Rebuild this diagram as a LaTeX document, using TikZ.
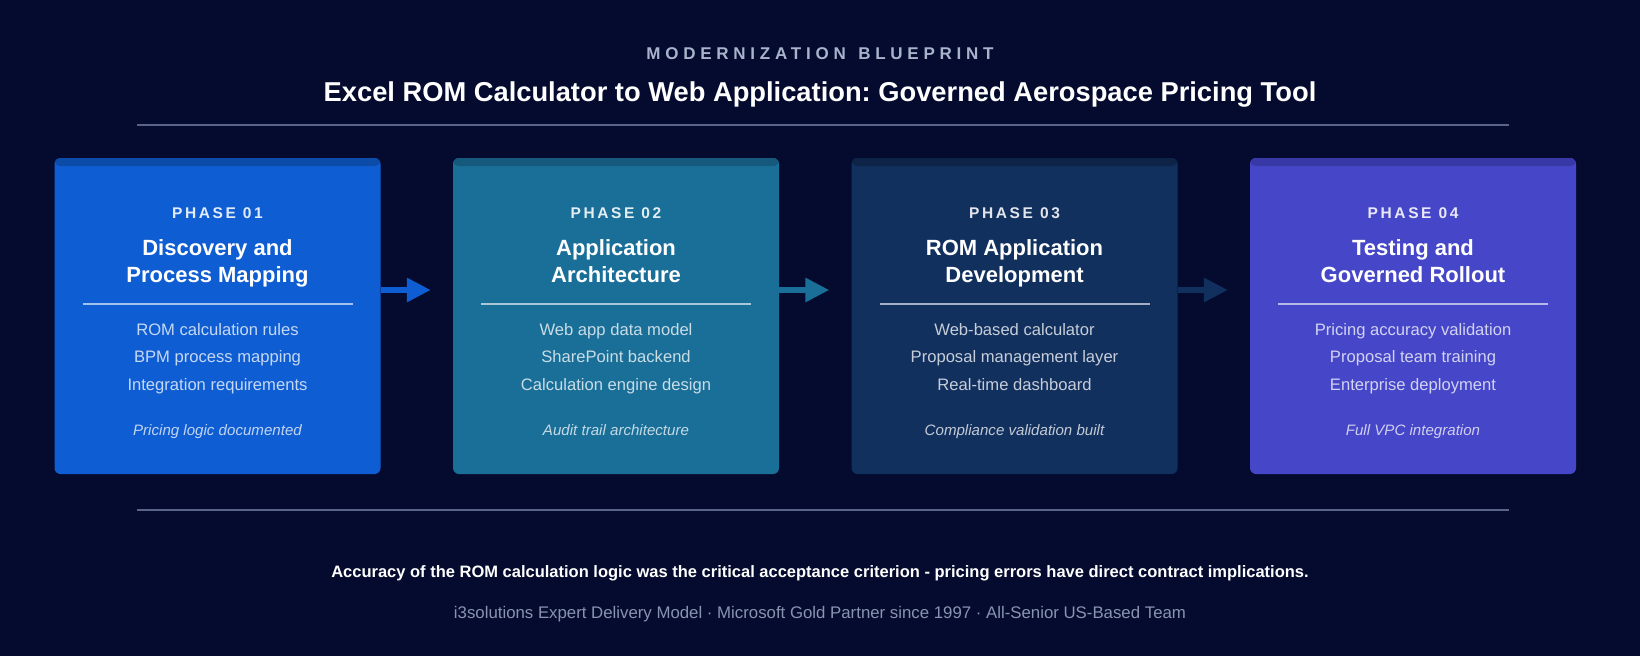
\documentclass[tikz,border=0pt]{standalone}
\usepackage{fontspec}
\setmainfont{Liberation Sans}
\newfontfamily\spacedfont[LetterSpace=28]{Liberation Sans}
\newfontfamily\labelfont[LetterSpace=17]{Liberation Sans}
\usetikzlibrary{arrows.meta,positioning}
\frenchspacing

\definecolor{bg}{HTML}{040B2E}
\definecolor{rulecol}{HTML}{5A6488}
\definecolor{kickcol}{HTML}{A9B4CC}
\definecolor{creditcol}{HTML}{8A93B0}
\definecolor{fillA}{HTML}{0F5DD2}
\definecolor{fillB}{HTML}{1A6F98}
\definecolor{fillC}{HTML}{12305E}
\definecolor{fillD}{HTML}{4646C8}
\definecolor{stripA}{HTML}{0A4CA8}
\definecolor{stripB}{HTML}{155A7C}
\definecolor{stripC}{HTML}{0D2448}
\definecolor{stripD}{HTML}{3838A6}

\tikzset{
  phasebox/.style 2 args={fill=#1, rounded corners=6pt, inner sep=0pt,
    minimum width=326pt, minimum height=316pt,
    path picture={\fill[#2] (path picture bounding box.north west)
      rectangle ([yshift=-8pt]path picture bounding box.north east);}},
  kicker/.style={text=kickcol, font=\spacedfont\bfseries\fontsize{17}{20}\selectfont},
  headline/.style={text=white, font=\bfseries\fontsize{27.3}{32}\selectfont},
  phaselabel/.style={text=white, text opacity=0.88, font=\labelfont\bfseries\fontsize{15.5}{18}\selectfont},
  phasetitle/.style={text=white, font=\bfseries\fontsize{22}{26}\selectfont},
  item/.style={text=white, text opacity=0.76, font=\fontsize{16.6}{19}\selectfont},
  outcome/.style={text=white, text opacity=0.74, font=\itshape\fontsize{15.1}{18}\selectfont},
  divider/.style={draw=white, draw opacity=0.62, line width=1.8pt},
  rule/.style={draw=rulecol, line width=1.6pt},
  flowarrow/.style={draw=#1, line width=6pt, -{Triangle[length=24pt,width=23pt]}},
  verdict/.style={text=white, font=\bfseries\fontsize{16.5}{19}\selectfont},
  credit/.style={text=creditcol, font=\fontsize{16.8}{20}\selectfont}
}

\begin{document}
\begin{tikzpicture}[x=1pt, y=-1pt]
\fill[bg] (0,0) rectangle (1640,656);
\useasboundingbox (0,0) rectangle (1640,656);

% heading
\node[kicker, anchor=base] (kick) at (820,59) {MODERNIZATION\hspace{3pt} BLUEPRINT};
\node[headline, anchor=base] (head) at (820,101) {Excel ROM Calculator to Web Application: Governed Aerospace Pricing Tool};
\draw[rule] (137,125) -- (1509,125);

% phases
\foreach \i/\x/\fc/\sc/\lab/\ta/\tb/\ia/\ib/\ic/\note in {
  1/217.5/fillA/stripA/PHASE 01/Discovery and/Process Mapping/ROM calculation rules/BPM process mapping/Integration requirements/Pricing logic documented,
  2/616/fillB/stripB/PHASE 02/Application/Architecture/Web app data model/SharePoint backend/Calculation engine design/Audit trail architecture,
  3/1014.5/fillC/stripC/PHASE 03/ROM Application/Development/Web-based calculator/Proposal management layer/Real-time dashboard/Compliance validation built,
  4/1413/fillD/stripD/PHASE 04/Testing and/Governed Rollout/Pricing accuracy validation/Proposal team training/Enterprise deployment/Full VPC integration}
{
  \node[phasebox={\fc}{\sc}] (p\i) at (\x,316) {};
  \node[phaselabel, anchor=base] (lab\i) at (\x,218) {\lab};
  \node[phasetitle, anchor=base] (ta\i) at (\x,255) {\ta};
  \node[phasetitle, anchor=base] (tb\i) at (\x,282) {\tb};
  \draw[divider] (\x-135,304) -- (\x+135,304);
  \node[item, anchor=base] (ia\i) at (\x,335) {\ia};
  \node[item, anchor=base] (ib\i) at (\x,362.5) {\ib};
  \node[item, anchor=base] (ic\i) at (\x,390) {\ic};
  \node[outcome, anchor=base] (n\i) at (\x,435) {\note};
}

% flow between phases
\foreach \i/\j/\ac in {1/2/fillA, 2/3/fillB, 3/4/fillC}
  \draw[flowarrow=\ac] ([yshift=26pt]p\i.east) -- ([xshift=-22pt,yshift=26pt]p\j.west);

% footer
\draw[rule] (137,510) -- (1509,510);
\node[verdict, anchor=base] (crit) at (820,577) {Accuracy of the ROM calculation logic was the critical acceptance criterion - pricing errors have direct contract implications.};
\node[credit, anchor=base] (team) at (820,618) {i3solutions Expert Delivery Model · Microsoft Gold Partner since 1997 · All-Senior US-Based Team};
\end{tikzpicture}
\end{document}
